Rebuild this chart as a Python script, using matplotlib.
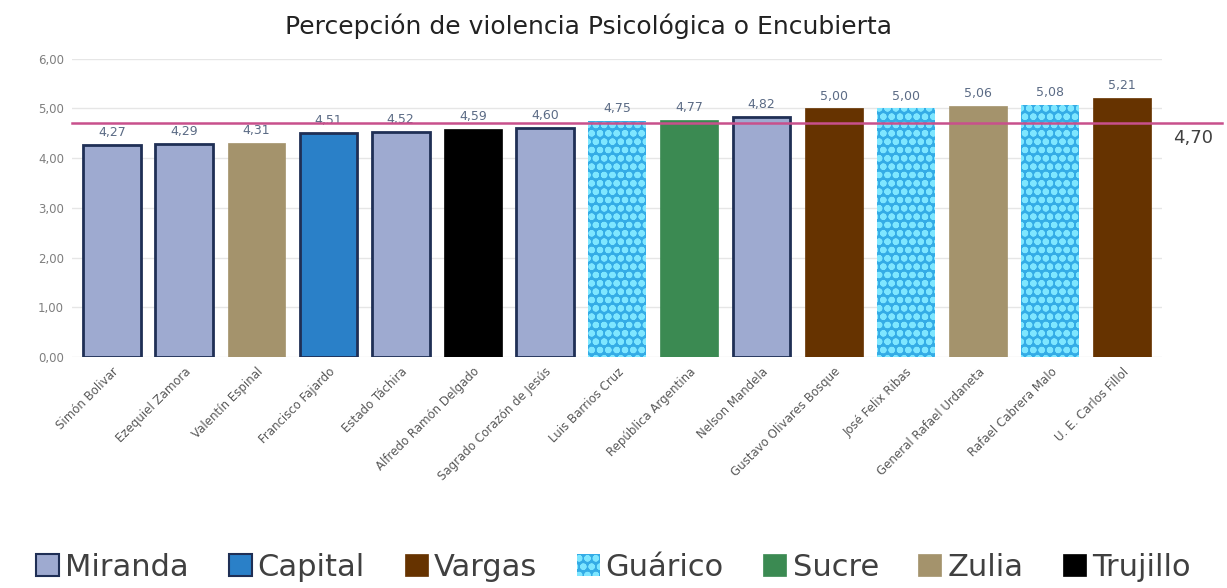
import matplotlib
matplotlib.use("Agg")
import matplotlib.pyplot as plt
from matplotlib.patches import Patch

categories = ["Simón Bolivar", "Ezequiel Zamora", "Valentín Espinal", "Francisco Fajardo",
              "Estado Táchira", "Alfredo Ramón Delgado", "Sagrado Corazón de Jesús",
              "Luis Barrios Cruz", "República Argentina", "Nelson Mandela",
              "Gustavo Olivares Bosque", "José Felix Ribas", "General Rafael Urdaneta",
              "Rafael Cabrera Malo", "U. E. Carlos Fillol"]
values = [4.27, 4.29, 4.31, 4.51, 4.52, 4.59, 4.60, 4.75, 4.77, 4.82, 5.00, 5.00, 5.06, 5.08, 5.21]
groups = ["Miranda", "Miranda", "Zulia", "Capital", "Miranda", "Trujillo", "Miranda",
          "Guárico", "Sucre", "Miranda", "Vargas", "Guárico", "Zulia", "Guárico", "Vargas"]
legend_order = ["Miranda", "Capital", "Vargas", "Guárico", "Sucre", "Zulia", "Trujillo"]
mean_value = 4.70
title = "Percepción de violencia Psicológica o Encubierta"

styles = {
    "Miranda": dict(facecolor="#9eaad0", edgecolor="#1f2f55", linewidth=2.0),
    "Capital": dict(facecolor="#2a80c8", edgecolor="#1f2f55", linewidth=2.0),
    "Vargas": dict(facecolor="#663300", edgecolor="#663300", linewidth=0.5),
    "Guárico": dict(facecolor="#34ace6", edgecolor="#7ee6ff", linewidth=0.0),
    "Sucre": dict(facecolor="#3b8a52", edgecolor="#3b8a52", linewidth=0.5),
    "Zulia": dict(facecolor="#a4936c", edgecolor="#a4936c", linewidth=0.5),
    "Trujillo": dict(facecolor="#000000", edgecolor="#000000", linewidth=0.5),
}

plt.rcParams['font.family'] = ['DejaVu Sans']
plt.rcParams['hatch.linewidth'] = 2.2
fig = plt.figure(figsize=(12.27, 5.88), dpi=100)
ax = fig.add_axes([0.059, 0.393, 0.888, 0.507])

x = list(range(len(categories)))
for xi, v, g in zip(x, values, groups):
    st = styles[g]
    if g == "Guárico":
        ax.bar(xi, v, width=0.8, facecolor=st["facecolor"], edgecolor=st["edgecolor"],
               linewidth=0, hatch="oo", zorder=3)
    else:
        ax.bar(xi, v, width=0.8, facecolor=st["facecolor"], edgecolor=st["edgecolor"],
               linewidth=st["linewidth"], zorder=3)
    ax.text(xi, v + 0.12, f"{v:.2f}".replace(".", ","), ha="center", va="bottom",
            fontsize=9, color="#5b6b85", zorder=4)

ax.set_xlim(-0.55, len(categories) - 0.45)
ax.set_ylim(0, 6)
ax.set_yticks([0, 1, 2, 3, 4, 5, 6])
ax.set_yticklabels([f"{t:.2f}".replace(".", ",") for t in range(7)], fontsize=8.5, color="#7f7f7f")
ax.set_xticks(x)
ax.set_xticklabels(categories, rotation=45, ha="right", rotation_mode="anchor",
                   fontsize=8.5, color="#595959")
ax.tick_params(axis="both", length=0, pad=6)
ax.grid(axis="y", color="#e6e6e6", linewidth=1, zorder=0)
for s in ax.spines.values():
    s.set_visible(False)

ax.axhline(mean_value, xmin=0, xmax=1.055, color="#c8508c", linewidth=1.8, zorder=5, clip_on=False)
ax.text(len(categories) - 0.45 + 0.15, mean_value - 0.12, f"{mean_value:.2f}".replace(".", ","),
        ha="left", va="top", fontsize=13, color="#404040")

fig.text(0.48, 0.955, title, ha="center", va="center", fontsize=18, color="#222222")

handles = []
for g in legend_order:
    st = styles[g]
    if g == "Guárico":
        handles.append(Patch(facecolor=st["facecolor"], edgecolor=st["edgecolor"], hatch="oo", linewidth=0))
    else:
        handles.append(Patch(facecolor=st["facecolor"], edgecolor=st["edgecolor"],
                             linewidth=1.5 if g in ("Miranda", "Capital") else 0.5))
fig.legend(handles=handles, labels=legend_order, loc="center", bbox_to_anchor=(0.5, 0.035),
           ncol=len(legend_order), frameon=False, fontsize=22, handlelength=0.75,
           handleheight=0.75, handletextpad=0.2, columnspacing=1.3, labelcolor="#404040")

fig.savefig("out.png", dpi=100)
